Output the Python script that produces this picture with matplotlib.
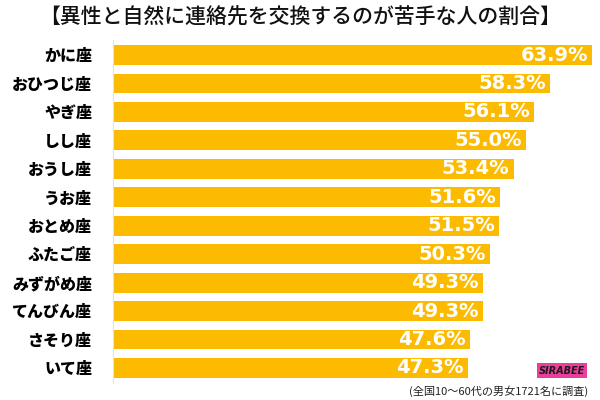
import matplotlib.pyplot as plt
from matplotlib.patches import Rectangle

plt.rcParams['font.family'] = ['Noto Sans CJK JP', 'DejaVu Sans']

# --- Data ---
signs = ["かに座", "おひつじ座", "やぎ座", "しし座", "おうし座", "うお座",
         "おとめ座", "ふたご座", "みずがめ座", "てんびん座", "さそり座", "いて座"]
rates = [63.9, 58.3, 56.1, 55.0, 53.4, 51.6, 51.5, 50.3, 49.3, 49.3, 47.6, 47.3]

title = "【異性と自然に連絡先を交換するのが苦手な人の割合】"
note = "(全国10〜60代の男女1721名に調査)"

bar_color = "#FCBB00"

# --- Figure ---
fig = plt.figure(figsize=(6, 4), dpi=100)
ax = fig.add_axes([0.1883, 0.0425, 0.8117, 0.8575])

y = list(range(len(signs)))
bars = ax.barh(y, rates, height=0.7, color=bar_color)

ax.set_xlim(0, 64.9)
ax.set_ylim(len(signs) - 0.47, -0.53)

for s in ["top", "right", "bottom"]:
    ax.spines[s].set_visible(False)
ax.spines["left"].set_color("#dde3ea")
ax.spines["left"].set_linewidth(0.8)
ax.set_xticks([])
ax.set_yticks(y)
ax.set_yticklabels(signs, fontsize=11.5, fontweight="black", color="black")
ax.tick_params(axis="y", length=0, pad=15)

# value labels inside bar ends
for yi, v in zip(y, rates):
    ax.annotate(f"{v:.1f}%", xy=(v, yi), xytext=(-3, 0), textcoords="offset points",
                ha="right", va="center", color="white", fontsize=14,
                fontweight="bold", family="DejaVu Sans")

# title
fig.text(0.5, 0.955, title, ha="center", va="center", fontsize=15,
         fontweight="medium", color="#111111")

# footer note
fig.text(0.98, 0.022, note, ha="right", va="center", fontsize=8, color="#222222")

# SIRABEE logo badge
logo = Rectangle((0.895, 0.055), 0.083, 0.038, transform=fig.transFigure,
                 facecolor="#E8409A", edgecolor="none")
fig.patches.append(logo)
fig.text(0.9365, 0.072, "SIRABEE", ha="center", va="center", fontsize=7,
         fontweight="bold", style="italic", color="#1a1a1a", family="DejaVu Sans")

fig.savefig("out.png", dpi=100)
